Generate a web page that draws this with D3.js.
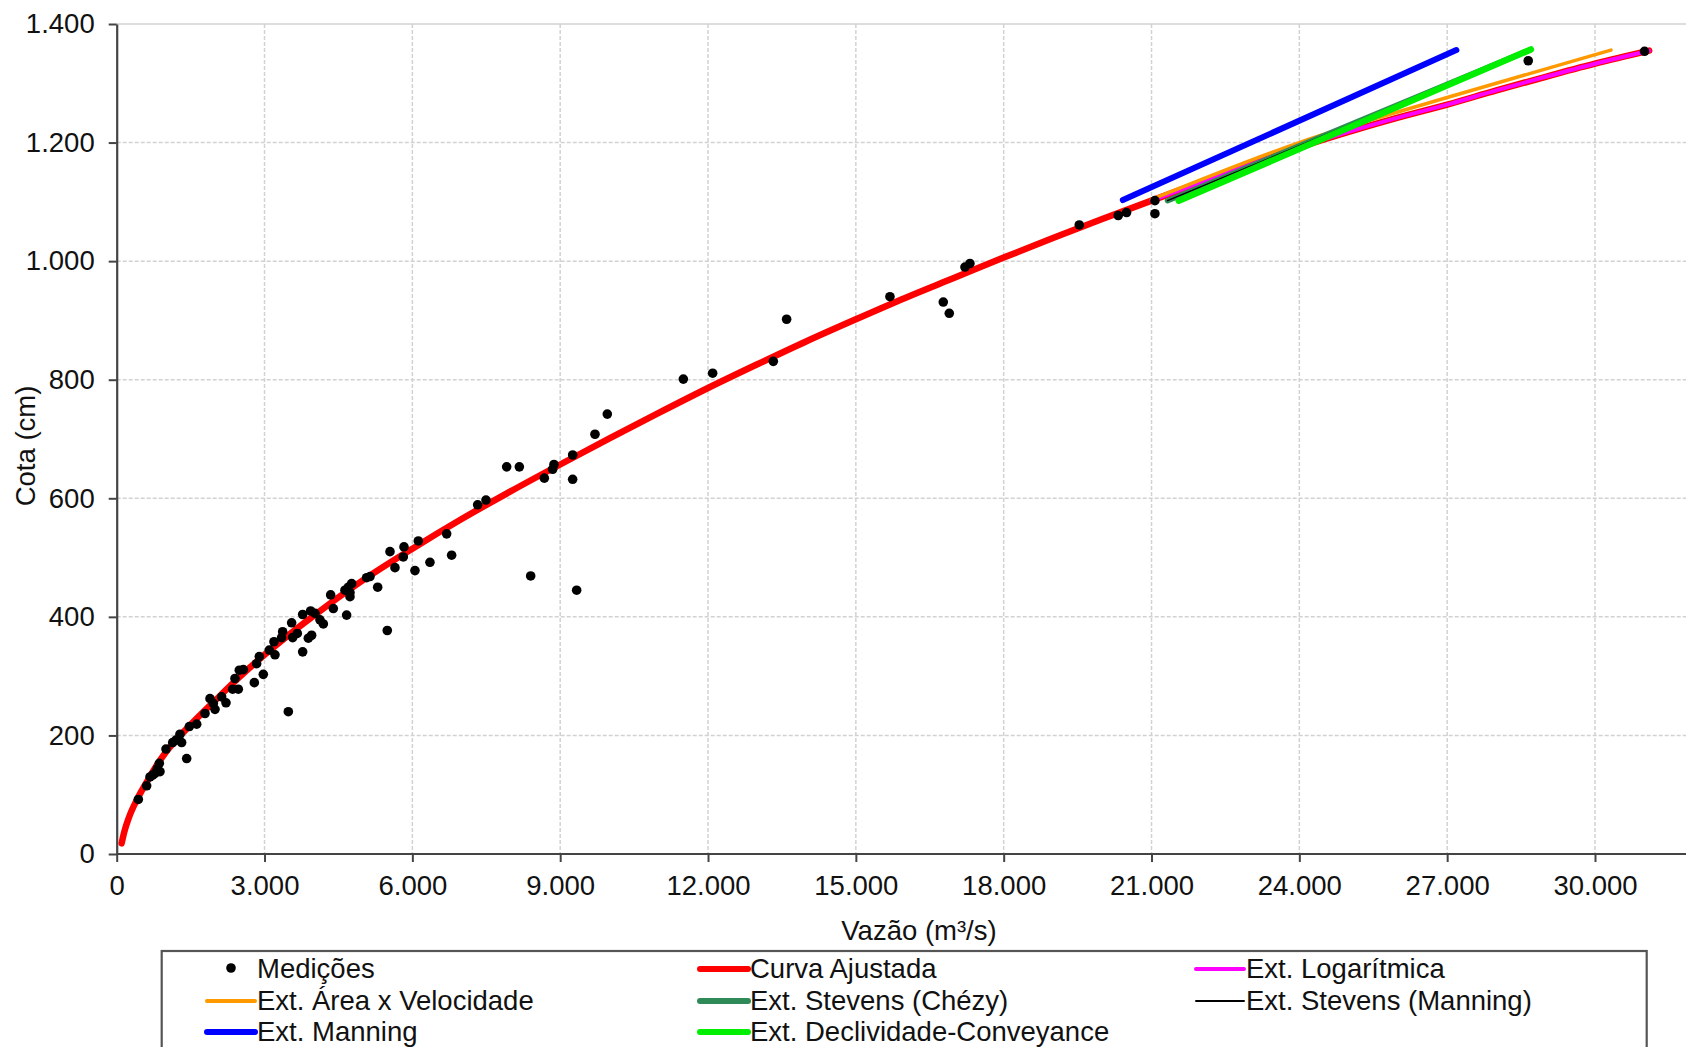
<!DOCTYPE html>
<html><head><meta charset="utf-8">
<script src="https://cdn.jsdelivr.net/npm/d3@7"></script>
<style>
html,body{margin:0;padding:0;background:#fff;}
text{font-family:"Liberation Sans",Arial,sans-serif;fill:#111;}
</style></head>
<body><svg id="c" width="1686" height="1047"></svg>
<script>
// ---- data ----
const xTicks = [0,3000,6000,9000,12000,15000,18000,21000,24000,27000,30000];
const yTicks = [0,200,400,600,800,1000,1200,1400];

const medicoes = [
[439,92],[608,115],[676,130],[730,133],[777,136],[824,144],[865,153],[879,139],[1000,177],[1136,188],
[1203,192],[1284,202],[1318,188],[1420,161],[1474,215],[1623,219],[1792,237],[1893,262],[1961,254],[1995,244],
[2130,265],[2218,255],[2353,278],[2400,296],[2468,278],[2488,310],[2570,311],[2793,289],[2840,321],[2894,333],
[2975,303],[3097,344],[3192,358],[3212,336],[3347,365],[3368,375],[3483,240],[3550,390],[3571,365],[3665,372],
[3774,341],[3774,404],[3889,364],[3936,410],[3956,369],[4024,406],[4125,395],[4193,388],[4342,437],[4396,414],
[4632,445],[4666,403],[4700,450],[4734,434],[4734,441],[4768,456],[5072,466],[5140,468],[5296,450],[5491,377],
[5546,510],[5647,483],[5816,501],[5830,518],[6053,478],[6121,528],[6357,492],[6696,540],[6797,504],
[7325,589],[7494,597],[7914,653],[8171,653],[8401,469],[8678,634],[8847,649],[8874,657],[9253,673],[9253,632],
[9334,445],[9706,708],[9956,742],[11499,801],[12094,811],[13325,831],[13595,902],
[15692,940],[16774,931],[16896,912],[17214,990],[17315,996],[19534,1061],[20325,1077],[20494,1082],[21069,1102],[21069,1080],
[28645,1338],[31005,1354]
];

const curvaAjustada = [[100,18],[150,36],[250,62],[400,90],[600,120],[800,148],[1000,172],[1500,218],[2000,259],[2500,299],
[3000,336],[3500,370],[4000,402],[4500,433],[5000,462],[6000,515],[7000,565],[8000,612],[9000,657],
[10000,701],[11000,744],[12000,786],[13000,826],[14000,865],[15000,902],[16000,938],[17000,972],[18000,1006],[19000,1039],
[20000,1071],[21000,1102],[22000,1133],[23000,1163],[24000,1192],[25000,1218],[26000,1242],[27000,1264],[28000,1288],
[29000,1311],[30000,1333],[31100,1355]];
const extLogaritmica = [[21000,1102],[22000,1133],[23000,1163],[24000,1192],[25000,1218],[26000,1242],[27000,1264],[28000,1288],[29000,1311],[30000,1333],[31100,1355]];
const extAreaVelocidade = [[21000,1104],[24000,1200],[27000,1276],[30324,1356]];
const extStevensChezy = [[21325,1102],[28698,1357]];
const extStevensManning = [[21325,1102],[28698,1357]];
const extManning = [[20418,1103],[27186,1356]];
const extDeclividade = [[21552,1102],[28698,1357]];

const series = [
  {name:"Curva Ajustada", data:curvaAjustada, color:"#ff0000", w:6.5, lw:6},
  {name:"Ext. Logarítmica", data:extLogaritmica, color:"#ff00ff", w:4, lw:4},
  {name:"Ext. Área x Velocidade", data:extAreaVelocidade, color:"#ff9900", w:3.5, lw:4},
  {name:"Ext. Stevens (Chézy)", data:extStevensChezy, color:"#2e8b57", w:5.5, lw:6},
  {name:"Ext. Stevens (Manning)", data:extStevensManning, color:"#000000", w:1.5, lw:2},
  {name:"Ext. Manning", data:extManning, color:"#0000ff", w:6, lw:6},
  {name:"Ext. Declividade-Conveyance", data:extDeclividade, color:"#00ee00", w:6.5, lw:6}
];

// ---- layout ----
const svg = d3.select("#c");
svg.append("rect").attr("width",1686).attr("height",1047).attr("fill","#fff");
const x = d3.scaleLinear().domain([0,30000]).range([116.7,1595]);
const y = d3.scaleLinear().domain([0,1400]).range([854,24]);
const xEnd = 1686;
const loc = d3.formatLocale({decimal:",",thousands:".",grouping:[3],currency:["",""]});
const fmt = loc.format(",d");
const FS = 27.5;

// grid
const g = svg.append("g");
g.selectAll(".vg").data(xTicks.slice(1)).join("line")
  .attr("x1",d=>x(d)).attr("x2",d=>x(d)).attr("y1",y(1400)).attr("y2",y(0))
  .attr("stroke","#d2d2d2").attr("stroke-width",1.5).attr("stroke-dasharray","4,2");
g.selectAll(".hg").data(yTicks.slice(1)).join("line")
  .attr("x1",x(0)).attr("x2",xEnd).attr("y1",d=>y(d)).attr("y2",d=>y(d))
  .attr("stroke","#d2d2d2").attr("stroke-width",1.5).attr("stroke-dasharray",d=>d===1400?null:"4,2");

// axes
const ax = svg.append("g").attr("transform",`translate(0,${y(0)})`)
  .call(d3.axisBottom(x).tickValues(xTicks).tickFormat(fmt).tickSize(8).tickPadding(13).tickSizeOuter(0));
ax.select(".domain").attr("d",`M${x(0)},0H${xEnd}`);
const ay = svg.append("g").attr("transform",`translate(${x(0)},0)`)
  .call(d3.axisLeft(y).tickValues(yTicks).tickFormat(fmt).tickSize(8).tickPadding(14).tickSizeOuter(0));
[ax,ay].forEach(a=>{
  a.select(".domain").attr("stroke","#444").attr("stroke-width",2.2);
  a.selectAll(".tick line").attr("stroke","#444").attr("stroke-width",2);
  a.selectAll(".tick text").attr("font-size",FS).attr("font-family","Liberation Sans, Arial, sans-serif").attr("fill","#111");
});

// axis titles
svg.append("text").attr("x",919).attr("y",940).attr("text-anchor","middle").attr("font-size",FS).text("Vazão (m³/s)");
svg.append("text").attr("transform","translate(35,446) rotate(-90)").attr("text-anchor","middle").attr("font-size",FS).text("Cota (cm)");

// lines
const line = d3.line().x(d=>x(d[0])).y(d=>y(d[1])).curve(d3.curveMonotoneX);
series.forEach(s=>{
  svg.append("path").datum(s.data).attr("d",line).attr("fill","none")
    .attr("stroke",s.color).attr("stroke-width",s.w).attr("stroke-linecap","round");
});

// points
svg.append("g").selectAll("circle").data(medicoes).join("circle")
  .attr("cx",d=>x(d[0])).attr("cy",d=>y(d[1])).attr("r",4.8).attr("fill","#000");

// legend
const lg = svg.append("g");
lg.append("rect").attr("x",161.7).attr("y",951).attr("width",1485).attr("height",120)
  .attr("fill","#fff").attr("stroke","#555").attr("stroke-width",2.2);
const legendItems = [
  {name:"Medições", dot:true, col:0,row:0},
  {name:"Curva Ajustada", s:series[0], col:1,row:0},
  {name:"Ext. Logarítmica", s:series[1], col:2,row:0},
  {name:"Ext. Área x Velocidade", s:series[2], col:0,row:1},
  {name:"Ext. Stevens (Chézy)", s:series[3], col:1,row:1},
  {name:"Ext. Stevens (Manning)", s:series[4], col:2,row:1},
  {name:"Ext. Manning", s:series[5], col:0,row:2},
  {name:"Ext. Declividade-Conveyance", s:series[6], col:1,row:2}
];
const colX = [207,700,1196], rowY = [969,1001,1032];
legendItems.forEach(it=>{
  const x0 = colX[it.col], yy = rowY[it.row];
  if(it.dot){
    lg.append("circle").attr("cx",x0+24).attr("cy",yy-1).attr("r",4.8).attr("fill","#000");
  } else {
    lg.append("line").attr("x1",x0).attr("x2",x0+48).attr("y1",yy).attr("y2",yy)
      .attr("stroke",it.s.color).attr("stroke-width",it.s.lw).attr("stroke-linecap","round");
  }
  lg.append("text").attr("x",x0+50).attr("y",yy+9).attr("font-size",FS).text(it.name);
});
</script></body></html>
